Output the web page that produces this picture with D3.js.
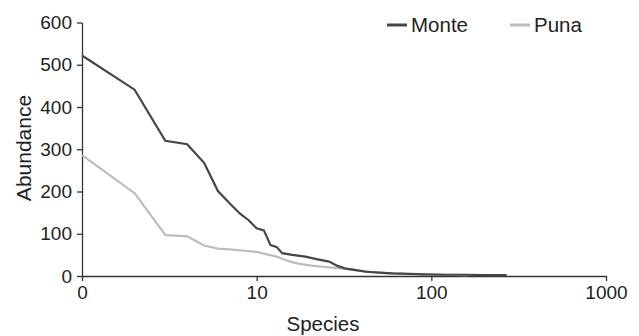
<!DOCTYPE html>
<html>
<head>
<meta charset="utf-8">
<script src="https://cdn.jsdelivr.net/npm/d3@7"></script>
<style>
  body { margin: 0; background: #fff; }
  svg { display: block; font-family: "Liberation Sans", Arial, sans-serif; }
</style>
</head>
<body>
<svg width="639" height="336"></svg>
<script>
// series: species rank vs abundance
const monteRanks = [1, 2, 3, 4, 5, 6, 7, 8, 9, 10, 11, 12, 13, 14, 16, 19, 22, 26, 29, 32, 37, 42, 50, 60, 75, 90, 120, 160, 200, 270];
const monteValues = [522, 441, 320, 312, 268, 201, 172, 148, 132, 113, 108, 73, 69, 54, 50, 46, 40, 34, 24, 18, 14, 10, 8, 6, 5, 4, 3, 3, 2, 2];
const punaRanks = [1, 2, 3, 4, 5, 6, 7, 8, 10, 13, 15, 17, 20, 25, 30, 37, 45, 55, 70, 90, 120, 160];
const punaValues = [286, 196, 97, 94, 72, 65, 63, 61, 57, 46, 36, 30, 25, 21, 18, 14, 10, 7, 5, 4, 3, 2];

const xTicks = [1, 10, 100, 1000];
const xTickLabels = ["0", "10", "100", "1000"];
const yTicks = [0, 100, 200, 300, 400, 500, 600];
const seriesNames = ["Monte", "Puna"];
const seriesColors = ["#464646", "#bcbcbc"];

const svg = d3.select("svg");

const x = d3.scaleLog().domain([1, 1000]).range([82, 606]);
const y = d3.scaleLinear().domain([0, 600]).range([276, 22.5]);

// axes
const xAxis = svg.append("g")
    .attr("transform", `translate(0, ${y(0)})`)
    .call(d3.axisBottom(x).tickValues(xTicks)
        .tickFormat((d, i) => xTickLabels[i])
        .tickSize(5).tickSizeOuter(0).tickPadding(5));

const yAxis = svg.append("g")
    .attr("transform", `translate(${x(1)}, 0)`)
    .call(d3.axisLeft(y).tickValues(yTicks)
        .tickSize(5).tickSizeOuter(0).tickPadding(5));

[xAxis, yAxis].forEach(a => {
  a.selectAll("path, line").attr("stroke", "#333").attr("stroke-width", 1.3);
  a.selectAll("text").attr("fill", "#222").attr("font-size", "19px")
      .attr("font-family", "Liberation Sans, Arial, sans-serif");
});

// axis titles
svg.append("text")
    .attr("x", 323)
    .attr("y", 331)
    .attr("text-anchor", "middle")
    .attr("font-size", "20.5px")
    .attr("fill", "#222")
    .text("Species");

svg.append("text")
    .attr("transform", "translate(31, 148) rotate(-90)")
    .attr("text-anchor", "middle")
    .attr("font-size", "21px")
    .attr("fill", "#222")
    .text("Abundance");

// lines
const line = d3.line()
    .x(d => x(d[0]))
    .y(d => y(d[1]));

const series = [
  d3.zip(punaRanks, punaValues),
  d3.zip(monteRanks, monteValues)
];

svg.append("path")
    .datum(series[0])
    .attr("fill", "none")
    .attr("stroke", seriesColors[1])
    .attr("stroke-width", 2.2)
    .attr("d", line);

svg.append("path")
    .datum(series[1])
    .attr("fill", "none")
    .attr("stroke", seriesColors[0])
    .attr("stroke-width", 2.2)
    .attr("d", line);

// legend
const legendX = [387, 510];
seriesNames.forEach((name, i) => {
  const g = svg.append("g").attr("transform", `translate(${legendX[i]}, 25)`);
  g.append("line")
      .attr("x1", 0).attr("x2", 20)
      .attr("stroke", seriesColors[i])
      .attr("stroke-width", 3);
  g.append("text")
      .attr("x", 24)
      .attr("dy", "0.36em")
      .attr("font-size", "20.5px")
      .attr("fill", "#222")
      .text(name);
});
</script>
</body>
</html>
